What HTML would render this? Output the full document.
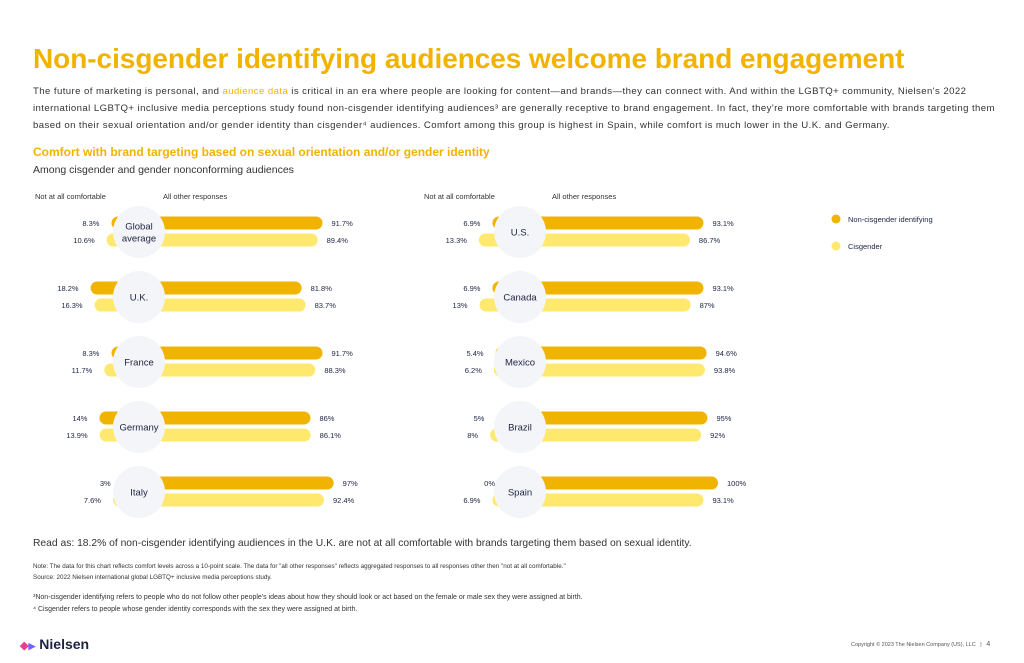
<!DOCTYPE html>
<html><head><meta charset="utf-8"><style>
body{margin:0;width:1024px;height:663px;background:#fff;font-family:"Liberation Sans",sans-serif;color:#1c2340;position:relative;overflow:hidden}
.t{position:absolute;white-space:nowrap}
</style></head><body>
<div class="t" style="left:33px;top:43px;font-size:28px;font-weight:bold;color:#F2B300;letter-spacing:-0.05px">Non-cisgender identifying audiences welcome brand engagement</div>
<div class="t" style="left:33px;top:83px;font-size:9.6px;line-height:17px;color:#333;letter-spacing:0.42px">The future of marketing is personal, and <span style="color:#F2B300">audience data</span> is critical in an era where people are looking for content—and brands—they can connect with. And within the LGBTQ+ community, Nielsen's 2022<br>international LGBTQ+ inclusive media perceptions study found non-cisgender identifying audiences³ are generally receptive to brand engagement. In fact, they're more comfortable with brands targeting them<br>based on their sexual orientation and/or gender identity than cisgender⁴ audiences. Comfort among this group is highest in Spain, while comfort is much lower in the U.K. and Germany.</div>
<div class="t" style="left:33px;top:145px;font-size:12px;font-weight:bold;color:#F2B300">Comfort with brand targeting based on sexual orientation and/or gender identity</div>
<div class="t" style="left:33px;top:164px;font-size:10.5px;color:#333">Among cisgender and gender nonconforming audiences</div>
<svg id="chart" width="1024" height="663" style="position:absolute;left:0;top:0" font-family="Liberation Sans, sans-serif"></svg>
<div class="t" style="left:33px;top:538px;font-size:10.3px;color:#333">Read as: 18.2% of non-cisgender identifying audiences in the U.K. are not at all comfortable with brands targeting them based on sexual identity.</div>
<div class="t" style="left:33px;top:561px;font-size:6.3px;line-height:11px;color:#333">Note: The data for this chart reflects comfort levels across a 10-point scale. The data for "all other responses" reflects aggregated responses to all responses other then "not at all comfortable."<br>Source: 2022 Nielsen international global LGBTQ+ inclusive media perceptions study.</div>
<div class="t" style="left:33px;top:592px;font-size:7px;line-height:12px;color:#333">³Non-cisgender identifying refers to people who do not follow other people's ideas about how they should look or act based on the female or male sex they were assigned at birth.<br>⁴ Cisgender refers to people whose gender identity corresponds with the sex they were assigned at birth.</div>
<div class="t" style="left:20px;top:636px;font-size:14px;font-weight:bold;color:#1c2340"><span style="color:#e83e8c;font-size:11px">◆</span><span style="color:#7b5cff;font-size:9px">▶</span> Nielsen</div>
<div class="t" style="left:851px;top:641px;font-size:5.5px;color:#555">Copyright © 2023 The Nielsen Company (US), LLC &nbsp; | &nbsp; <span style="font-size:7px">4</span></div>
<script>
const leftCats=["Global|average","U.K.","France","Germany","Italy"];
const rightCats=["U.S.","Canada","Mexico","Brazil","Spain"];
const leftNonCis=[8.3,18.2,8.3,14,3];
const leftCis=[10.6,16.3,11.7,13.9,7.6];
const rightNonCis=[6.9,6.9,5.4,5,0];
const rightCis=[13.3,13,6.2,8,6.9];
const leftNonCisLbl=["8.3%","18.2%","8.3%","14%","3%"],leftNonCisOther=["91.7%","81.8%","91.7%","86%","97%"];
const leftCisLbl=["10.6%","16.3%","11.7%","13.9%","7.6%"],leftCisOther=["89.4%","83.7%","88.3%","86.1%","92.4%"];
const rightNonCisLbl=["6.9%","6.9%","5.4%","5%","0%"],rightNonCisOther=["93.1%","93.1%","94.6%","95%","100%"];
const rightCisLbl=["13.3%","13%","6.2%","8%","6.9%"],rightCisOther=["86.7%","87%","93.8%","92%","93.1%"];
const svg=document.getElementById('chart');const NS="http://www.w3.org/2000/svg";
function mk(t,a,txt){const e=document.createElementNS(NS,t);for(const k in a)e.setAttribute(k,a[k]);if(txt!==undefined)e.textContent=txt;svg.appendChild(e);return e;}
const sc=2.11;
function x(split,v){return split+v*sc;}
function rowY(i){return 232+i*65;}
function panel(split,cx,cats,nc,ci,ncl,nco,cil,cio,hx){
 let h=mk('text',{x:hx,y:199,'font-size':7.5,fill:'#333'},'Not at all comfortable');
 h=mk('text',{x:hx+128,y:199,'font-size':7.5,fill:'#333'},'All other responses');
 cats.forEach((c,i)=>{const yc=rowY(i);
  [[nc,ncl,nco,'#F0B400',-9,'noncis'],[ci,cil,cio,'#FFE86E',8,'cis']].forEach(([vals,l,o,col,dy,nm])=>{
   const x0=x(split,-vals[i]),x1=x(split,100-vals[i]);const y=yc+dy;
   let r=mk('rect',{x:x0,y:y-6.5,width:x1-x0,height:13,rx:6.5,fill:col});
   let t=mk('text',{x:x0-12,y:y+3,'font-size':7.5,'text-anchor':'end',fill:'#1c2340'},l[i]);
   t=mk('text',{x:x1+9,y:y+3,'font-size':7.5,fill:'#1c2340'},o[i]);
  });
  let ci2=mk('circle',{cx:cx,cy:yc,r:26,fill:'#F4F5F8'});
  const parts=c.split('|');parts.forEach((p,j)=>{let t=mk('text',{x:cx,y:yc+3.5+(j-(parts.length-1)/2)*12,'font-size':9.5,'text-anchor':'middle',fill:'#1c2340'},p);});
 });
}
panel(129,139,leftCats,leftNonCis,leftCis,leftNonCisLbl,leftNonCisOther,leftCisLbl,leftCisOther,35);
panel(507,520,rightCats,rightNonCis,rightCis,rightNonCisLbl,rightNonCisOther,rightCisLbl,rightCisOther,424);
[["#F0B400","Non-cisgender identifying",219],["#FFE86E","Cisgender",246]].forEach(([c,l,y])=>{
 let d=mk('circle',{cx:836,cy:y,r:4.5,fill:c});
 let t=mk('text',{x:848,y:y+3,'font-size':7.5,fill:'#1c2340'},l);
});
</script>
</body></html>
